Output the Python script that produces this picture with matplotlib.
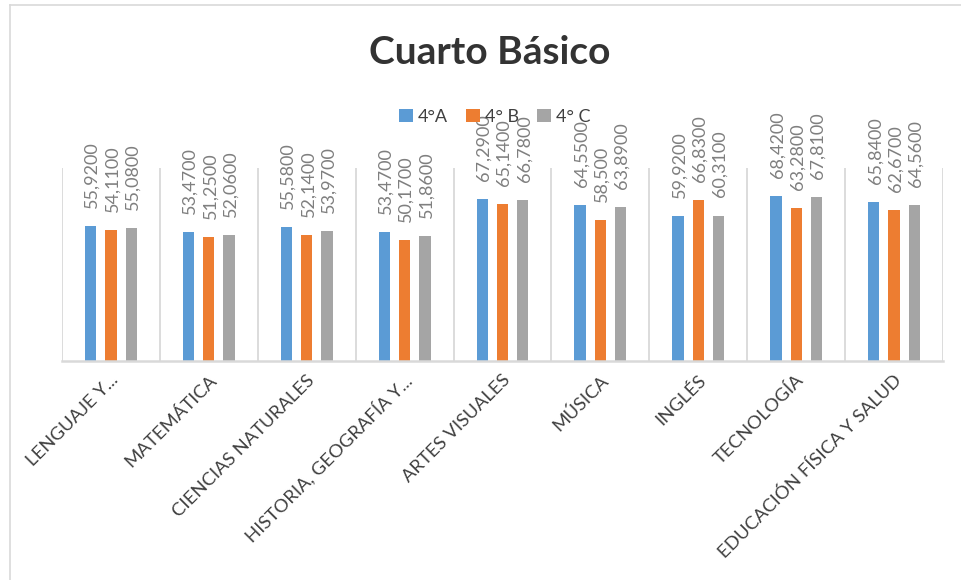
import matplotlib
matplotlib.use("Agg")
import matplotlib.pyplot as plt
from matplotlib.patches import Patch
from matplotlib.lines import Line2D
from matplotlib.transforms import ScaledTranslation
import numpy as np

plt.rcParams['font.family'] = ['Lato', 'DejaVu Sans']

categories = ["LENGUAJE Y...", "MATEMÁTICA", "CIENCIAS NATURALES",
              "HISTORIA, GEOGRAFÍA Y...", "ARTES VISUALES", "MÚSICA",
              "INGLÉS", "TECNOLOGÍA", "EDUCACIÓN FÍSICA Y SALUD"]
series_names = ["4°A", "4° B", "4° C"]
vals_a = [55.92, 53.47, 55.58, 53.47, 67.29, 64.55, 59.92, 68.42, 65.84]
vals_b = [54.11, 51.25, 52.14, 50.17, 65.14, 58.50, 66.83, 63.28, 62.67]
vals_c = [55.08, 52.06, 53.97, 51.86, 66.78, 63.89, 60.31, 67.81, 64.56]
labels_a = ["55,9200", "53,4700", "55,5800", "53,4700", "67,2900", "64,5500", "59,9200", "68,4200", "65,8400"]
labels_b = ["54,1100", "51,2500", "52,1400", "50,1700", "65,1400", "58,500", "66,8300", "63,2800", "62,6700"]
labels_c = ["55,0800", "52,0600", "53,9700", "51,8600", "66,7800", "63,8900", "60,3100", "67,8100", "64,5600"]
colors = ["#5B9BD5", "#ED7D31", "#A5A5A5"]

W, H = 962, 580
fig = plt.figure(figsize=(W / 100, H / 100), dpi=100)

# outer chart border (left and top visible)
fig.add_artist(Line2D([10 / W, 10 / W], [0, 1 - 5 / H], color="#d9d9d9", lw=1.2))
fig.add_artist(Line2D([10 / W, 1], [1 - 5 / H, 1 - 5 / H], color="#d9d9d9", lw=1.2))

ax = fig.add_axes([62 / W, (H - 361) / H, (943 - 62) / W, (361 - 168) / H])
x = np.arange(len(categories))
offsets = [-0.207, 0.0, 0.207]
width = 0.115
series = [(vals_a, labels_a), (vals_b, labels_b), (vals_c, labels_c)]
for (vals, labs), off, col in zip(series, offsets, colors):
    bars = ax.bar(x + off, vals, width=width, color=col, zorder=2)
    for b, t in zip(bars, labs):
        ax.annotate(t, (b.get_x() + b.get_width() / 2, b.get_height()),
                    xytext=(1, 13), textcoords="offset points", rotation=90,
                    ha="center", va="bottom", fontsize=13, color="#7f7f7f",
                    annotation_clip=False, zorder=4)

ax.set_xlim(-0.5, len(categories) - 0.5)
ax.set_ylim(0, 80)
for b in np.arange(-0.5, len(categories), 1.0):
    ax.axvline(b, color="#d9d9d9", lw=1.3, zorder=1)
for s in ["top", "right", "left"]:
    ax.spines[s].set_visible(False)
ax.spines["bottom"].set_color("#d9d9d9")
ax.spines["bottom"].set_linewidth(1.8)
ax.set_yticks([])
ax.set_xticks(x)
ax.set_xticklabels(categories, rotation=45, ha="right", va="center",
                   rotation_mode="anchor", fontsize=13.3, color="#404040")
ax.tick_params(axis="x", length=0, pad=12)
shift = ScaledTranslation(5 / 100, 0, fig.dpi_scale_trans)
for lbl in ax.get_xticklabels():
    lbl.set_transform(lbl.get_transform() + shift)

fig.text(490 / W, 1 - 52 / H, "Cuarto Básico", ha="center", va="center",
         fontsize=28, fontweight="bold", color="#333333")

handles = [Patch(facecolor=c, edgecolor="none") for c in colors]
fig.legend(handles, series_names, loc="center", bbox_to_anchor=(495 / W, 1 - 117 / H),
           ncol=3, frameon=False, fontsize=13, handlelength=0.75, handleheight=0.75,
           handletextpad=0.3, columnspacing=1.0, labelcolor="#404040")

fig.savefig("out.png", dpi=100)
